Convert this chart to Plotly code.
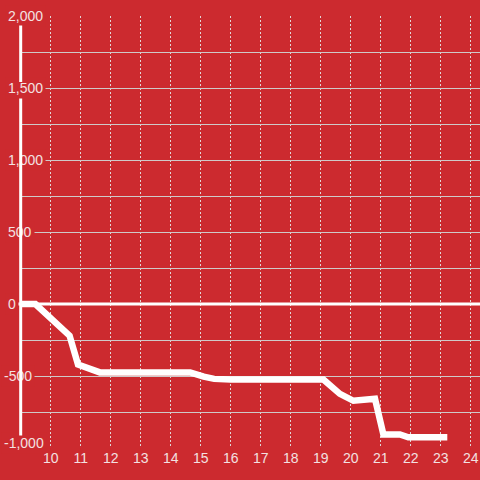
import plotly.graph_objects as go

# ---- data ----
x_vals = [9.0, 9.49, 10.63, 10.91, 11.64, 14.65, 15.1, 15.45, 16.0, 19.09,
          19.64, 20.09, 20.81, 21.09, 21.64, 21.92, 23.22]
y_vals = [0, 0, -220, -420, -475, -475, -505, -520, -524, -524,
          -624, -672, -658, -906, -906, -926, -926]

x_ticks = list(range(10, 25))
y_grid = [-1000, -750, -500, -250, 0, 250, 500, 750, 1000, 1250, 1500, 1750, 2000]
y_label_vals = [2000, 1500, 1000, 500, 0, -500, -1000]
y_label_text = ["2,000", "1,500", "1,000", "500", "0", "-500", "-1,000"]

BG = "#CC2A2F"
TXT = "#F3E1E1"
FONT = "Liberation Sans, Arial, sans-serif"
PLOT_W = 460.0

fig = go.Figure()
fig.add_trace(go.Scatter(
    x=x_vals, y=y_vals, mode="lines",
    line=dict(color="white", width=6.5),
    hoverinfo="skip", showlegend=False,
))

annotations = []
for v, t in zip(y_label_vals, y_label_text):
    left_px = 0.5 if t.startswith("-") else 4.5
    annotations.append(dict(
        xref="paper", yref="y", x=(left_px - 20) / PLOT_W, y=v,
        xanchor="left", yanchor="middle",
        text=t, showarrow=False,
        font=dict(family=FONT, size=14, color=TXT),
        bgcolor=BG, borderpad=2,
        yshift=5 if v == -1000 else 0,
    ))

# white vertical axis line (two pieces), drawn above the label boxes
for y_from, y_to in [(1945, 1542), (1437, -913)]:
    annotations.append(dict(
        xref="x", yref="y", axref="x", ayref="y",
        x=9, y=y_to, ax=9, ay=y_from,
        text="", showarrow=True, arrowhead=0, arrowwidth=3,
        arrowcolor="white", standoff=0, startstandoff=0,
    ))

fig.update_layout(
    width=480, height=480,
    margin=dict(l=20, r=0, t=16, b=32),
    paper_bgcolor=BG, plot_bgcolor=BG,
    showlegend=False,
    font=dict(family=FONT, size=14, color=TXT),
    xaxis=dict(
        range=[8.977, 24.31],
        tickvals=x_ticks,
        ticktext=[str(v) for v in x_ticks],
        showgrid=True, gridcolor="#E2D6D6", gridwidth=1, griddash="2px,2px",
        zeroline=False, showline=False, ticks="",
        tickfont=dict(family=FONT, size=14, color=TXT),
    ),
    yaxis=dict(
        range=[-1000, 2000],
        tickvals=y_grid,
        showticklabels=False,
        showgrid=True, gridcolor="#CFC9C9", gridwidth=1,
        zeroline=False, showline=False, ticks="",
    ),
    shapes=[dict(
        type="line", xref="paper", yref="y", x0=-3 / PLOT_W, x1=1, y0=0, y1=0,
        line=dict(color="white", width=3), layer="above",
    )],
    annotations=annotations,
)

fig.write_html(
    "out.html",
    config={"displayModeBar": False},
    post_script="document.body.style.margin='0';document.body.style.overflow='hidden';",
)
